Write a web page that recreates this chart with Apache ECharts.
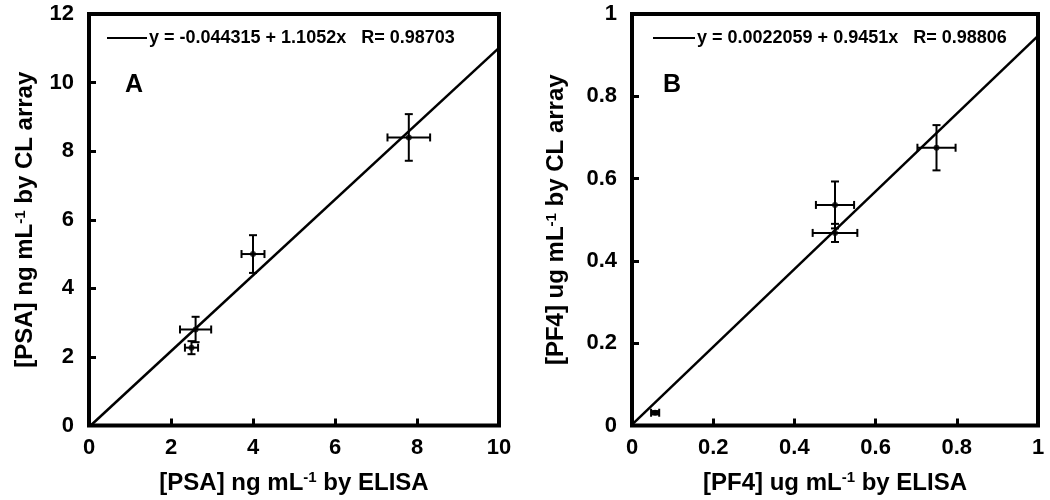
<!DOCTYPE html>
<html>
<head>
<meta charset="utf-8">
<script src="https://cdn.jsdelivr.net/npm/echarts@6/dist/echarts.min.js"></script>
<style>html,body{margin:0;padding:0;background:#fff}#c{width:1050px;height:500px}</style>
</head>
<body>
<div id="c"></div>
<script>
// Panel A (PSA)
var ptsA_x = [2.5, 2.6, 4.0, 7.8];
var ptsA_y = [2.27, 2.8, 5.0, 8.4];
var errA_x = [0.16, 0.38, 0.28, 0.52];
var errA_y = [0.19, 0.37, 0.55, 0.68];
var fitA = [[0.04, 0], [10, 11.01]];
var legendA = 'y = -0.044315 + 1.1052x   R= 0.98703';

// Panel B (PF4)
var ptsB_x = [0.057, 0.5, 0.5, 0.75];
var ptsB_y = [0.031, 0.468, 0.536, 0.675];
var errB_x = [0.01, 0.055, 0.047, 0.047];
var errB_y = [0.004, 0.022, 0.057, 0.055];
var fitB = [[0, 0.0022], [1, 0.947]];
var legendB = 'y = 0.0022059 + 0.9451x   R= 0.98806';

function zipPts(xs, ys, exs, eys) {
  return xs.map(function (x, i) { return [x, ys[i], exs[i], eys[i]]; });
}

var FONT = 'Liberation Sans, Arial, sans-serif';
var CAP = 4;

function errRender(params, api) {
  var x = api.value(0), y = api.value(1), ex = api.value(2), ey = api.value(3);
  var l = api.coord([x - ex, y]), r = api.coord([x + ex, y]);
  var t = api.coord([x, y + ey]), b = api.coord([x, y - ey]);
  var st = { stroke: '#000', lineWidth: 2 };
  return {
    type: 'group',
    children: [
      { type: 'line', shape: { x1: l[0], y1: l[1], x2: r[0], y2: r[1] }, style: st },
      { type: 'line', shape: { x1: l[0], y1: l[1] - CAP, x2: l[0], y2: l[1] + CAP }, style: st },
      { type: 'line', shape: { x1: r[0], y1: r[1] - CAP, x2: r[0], y2: r[1] + CAP }, style: st },
      { type: 'line', shape: { x1: t[0], y1: t[1], x2: b[0], y2: b[1] }, style: st },
      { type: 'line', shape: { x1: t[0] - CAP, y1: t[1], x2: t[0] + CAP, y2: t[1] }, style: st },
      { type: 'line', shape: { x1: b[0] - CAP, y1: b[1], x2: b[0] + CAP, y2: b[1] }, style: st }
    ]
  };
}

var nameStyle = {
  color: '#000', fontFamily: FONT, fontWeight: 'bold', fontSize: 24,
  rich: { sup: { fontFamily: FONT, fontWeight: 'bold', fontSize: 15, color: '#000', verticalAlign: 'top', padding: [0, 0, 10, 0] } }
};

function axisCommon(extra) {
  var o = {
    type: 'value',
    axisLine: { show: false },
    axisTick: { show: true, inside: true, length: 7, lineStyle: { color: '#000', width: 3 } },
    splitLine: { show: false },
    axisLabel: { color: '#000', fontFamily: FONT, fontWeight: 'bold', fontSize: 22 },
    nameLocation: 'middle',
    nameTextStyle: nameStyle
  };
  for (var k in extra) {
    if (typeof extra[k] === 'object' && o[k] && !Array.isArray(extra[k])) {
      o[k] = Object.assign({}, o[k], extra[k]);
    } else o[k] = extra[k];
  }
  return o;
}

var legendText = { fontFamily: FONT, fontWeight: 'bold', fontSize: 18, color: '#000', padding: [0, 0, 0, -3] };

var chart = echarts.init(document.getElementById('c'), null, { renderer: 'canvas' });
chart.setOption({
  backgroundColor: '#fff',
  animation: false,
  title: [
    { text: 'A', left: 120, top: 68, textStyle: { fontFamily: FONT, fontWeight: 'bold', fontSize: 25, color: '#000' } },
    { text: 'B', left: 658, top: 68, textStyle: { fontFamily: FONT, fontWeight: 'bold', fontSize: 25, color: '#000' } }
  ],
  legend: [
    { data: [{ name: legendA, icon: 'rect' }], left: 107, top: 29, padding: 0, itemWidth: 40, itemHeight: 2, itemGap: 0,
      itemStyle: { color: '#000' }, textStyle: legendText },
    { data: [{ name: legendB, icon: 'rect' }], left: 653, top: 29, padding: 0, itemWidth: 42, itemHeight: 2, itemGap: 0,
      itemStyle: { color: '#000' }, textStyle: legendText }
  ],
  grid: [
    { left: 89, top: 14, width: 410, height: 412, show: true, borderWidth: 4, borderColor: '#000', backgroundColor: 'transparent' },
    { left: 632, top: 14, width: 406, height: 412, show: true, borderWidth: 4, borderColor: '#000', backgroundColor: 'transparent' }
  ],
  xAxis: [
    axisCommon({ gridIndex: 0, min: 0, max: 10, interval: 2, name: '[PSA] ng mL{sup|-1} by ELISA', nameGap: 45,
      axisLabel: { margin: 11 } }),
    axisCommon({ gridIndex: 1, min: 0, max: 1, interval: 0.2, name: '[PF4] ug mL{sup|-1} by ELISA', nameGap: 45,
      axisLabel: { margin: 11 } })
  ],
  yAxis: [
    axisCommon({ gridIndex: 0, min: 0, max: 12, interval: 2, name: '[PSA] ng mL{sup|-1} by CL array', nameGap: 51,
      axisLabel: { margin: 15 } }),
    axisCommon({ gridIndex: 1, min: 0, max: 1, interval: 0.2, name: '[PF4] ug mL{sup|-1} by CL array', nameGap: 63,
      axisLabel: { margin: 15 } })
  ],
  series: [
    { name: legendA, type: 'line', xAxisIndex: 0, yAxisIndex: 0, data: fitA, symbol: 'none',
      lineStyle: { color: '#000', width: 2.5 }, itemStyle: { color: '#000' }, z: 3 },
    { type: 'custom', xAxisIndex: 0, yAxisIndex: 0, renderItem: errRender,
      data: zipPts(ptsA_x, ptsA_y, errA_x, errA_y), encode: { x: 0, y: 1 }, z: 4 },
    { type: 'scatter', xAxisIndex: 0, yAxisIndex: 0, symbolSize: 6, itemStyle: { color: '#000' },
      data: ptsA_x.map(function (x, i) { return [x, ptsA_y[i]]; }), z: 5 },
    { name: legendB, type: 'line', xAxisIndex: 1, yAxisIndex: 1, data: fitB, symbol: 'none',
      lineStyle: { color: '#000', width: 2.5 }, itemStyle: { color: '#000' }, z: 3 },
    { type: 'custom', xAxisIndex: 1, yAxisIndex: 1, renderItem: errRender,
      data: zipPts(ptsB_x, ptsB_y, errB_x, errB_y), encode: { x: 0, y: 1 }, z: 4 },
    { type: 'scatter', xAxisIndex: 1, yAxisIndex: 1, symbolSize: 6, itemStyle: { color: '#000' },
      data: ptsB_x.map(function (x, i) { return [x, ptsB_y[i]]; }), z: 5 }
  ]
});
</script>
</body>
</html>
